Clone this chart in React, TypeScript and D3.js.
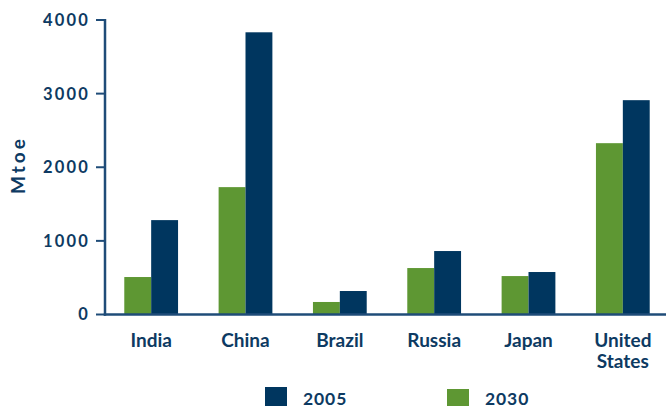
import React from "react";
import * as d3 from "d3";

const categories = ["India", "China", "Brazil", "Russia", "Japan", "United States"];
const series = ["2030", "2005"];
const values2030 = [509, 1730, 170, 631, 522, 2327];
const values2005 = [1282, 3833, 319, 862, 577, 2911];
const yTicks = [0, 1000, 2000, 3000, 4000];
const legendOrder = ["2005", "2030"];

const W = 666;
const H = 406;
const colors: Record<string, string> = { "2005": "#00365f", "2030": "#5e9733" };
const textColor = "#0d3a62";
const axisColor = "#1f4c78";
const font = "Lato, 'Open Sans', sans-serif";

export default function App() {
  const x0 = 105;
  const y = d3.scaleLinear().domain([0, 4000]).range([314.5, 20]);
  const x = d3
    .scaleBand<string>()
    .domain(categories)
    .range([104, 670])
    .paddingInner(0.43)
    .paddingOuter(0.215);
  const xs = d3.scaleBand<string>().domain(series).range([0, x.bandwidth()]);
  const data: Record<string, number[]> = { "2030": values2030, "2005": values2005 };
  const legendX = d3.scalePoint<string>().domain(legendOrder).range([265, 447]);

  return (
    <svg
      width={W}
      height={H}
      style={{ position: "absolute", left: 0, top: 0, background: "#fff" }}
      fontFamily={font}
      fontWeight="bold"
    >
      {categories.map((c, i) =>
        series.map((s) => {
          const v = data[s][i];
          return (
            <rect
              key={c + s}
              x={(x(c) as number) + (xs(s) as number)}
              y={y(v)}
              width={xs.bandwidth()}
              height={y(0) - y(v)}
              fill={colors[s]}
            />
          );
        })
      )}
      <line x1={x0} x2={x0} y1={y(4000) - 1} y2={y(0) + 1.2} stroke={axisColor} strokeWidth={2.5} />
      <line x1={x0 - 1.2} x2={W} y1={y(0)} y2={y(0)} stroke={axisColor} strokeWidth={2.5} />
      {yTicks.map((t) => (
        <g key={t}>
          <line x1={x0 - 9} x2={x0} y1={y(t)} y2={y(t)} stroke={axisColor} strokeWidth={2} />
          <text
            x={90}
            y={y(t)}
            dy="0.36em"
            textAnchor="end"
            fontSize={16.5}
            letterSpacing={2.2}
            fill={textColor}
          >
            {t}
          </text>
        </g>
      ))}
      <text
        transform={`translate(25,165) rotate(-90)`}
        textAnchor="middle"
        fontSize={19}
        letterSpacing={3}
        fill={textColor}
      >
        Mtoe
      </text>
      {categories.map((c) => {
        const cx = (x(c) as number) + x.bandwidth() / 2;
        const lines = c === "United States" ? ["United", "States"] : [c];
        return (
          <text key={c} x={cx} y={347} textAnchor="middle" fontSize={19} fill={textColor}>
            {lines.map((l, j) => (
              <tspan key={l} x={cx} y={347 + j * 21}>
                {l}
              </tspan>
            ))}
          </text>
        );
      })}
      {legendOrder.map((s) => {
        const lx = legendX(s) as number;
        return (
          <g key={s}>
            <rect x={lx} y={s === "2005" ? 387 : 389} width={22} height={22} fill={colors[s]} />
            <text x={lx + 38} y={404.5} fontSize={17.5} letterSpacing={0.9} fill={textColor}>
              {s}
            </text>
          </g>
        );
      })}
    </svg>
  );
}
